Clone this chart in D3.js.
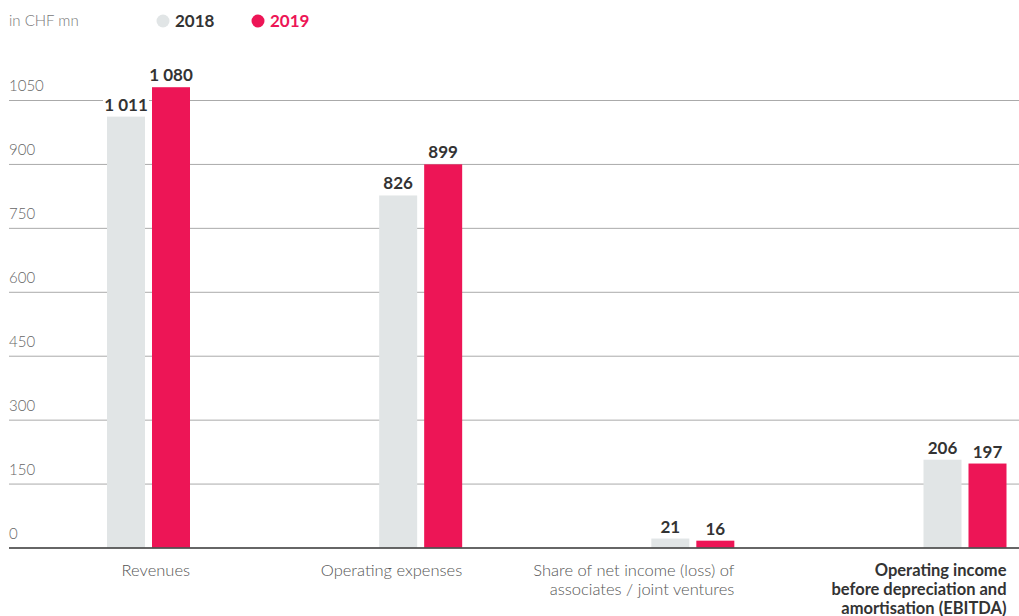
<!DOCTYPE html>
<html>
<head>
<meta charset="utf-8">
<script src="https://cdn.jsdelivr.net/npm/d3@7"></script>
<style>
  body { margin: 0; background: #fff; }
  svg { display: block; font-family: "Source Sans Pro", "Lato", "Noto Sans", sans-serif; }
</style>
</head>
<body>
<svg id="chart" width="1019" height="616"></svg>
<script>
// data
const categories = [
  ["Revenues"],
  ["Operating expenses"],
  ["Share of net income (loss) of", "associates / joint ventures"],
  ["Operating income", "before depreciation and", "amortisation (EBITDA)"]
];
const series = ["2018", "2019"];
const values2018 = [1011, 826, 21, 206];
const values2019 = [1080, 899, 16, 197];
const valueLabels2018 = ["1 011", "826", "21", "206"];
const valueLabels2019 = ["1 080", "899", "16", "197"];
const yTicks = [0, 150, 300, 450, 600, 750, 900, 1050];

const colors = { "2018": "#e1e5e6", "2019": "#ed1556" };

const svg = d3.select("#chart");

// scales
const x = d3.scalePoint()
  .domain(d3.range(categories.length))
  .range([148.5, 965]);
const y = d3.scaleLinear()
  .domain([0, 1050])
  .range([547.5, 100]);
const barW = 38, gap = 7;
const offset = d3.scaleOrdinal().domain(series).range([-(gap / 2 + barW), gap / 2]);

// gridlines + tick labels
const grid = svg.append("g");
grid.selectAll("line")
  .data(yTicks.filter(d => d !== 0))
  .enter()
  .append("line")
  .attr("x1", 9).attr("x2", 1019)
  .attr("y1", d => y(d) + 0.5).attr("y2", d => y(d) + 0.5)
  .attr("stroke", "#aaa")
  .attr("stroke-width", 1);
grid.selectAll("text")
  .data(yTicks)
  .enter()
  .append("text")
  .attr("x", 9)
  .attr("y", d => y(d) - 9)
  .attr("fill", "#666")
  .attr("font-size", 15)
  .attr("font-weight", 300)
  .text(d => d);

// bars
const rows = [];
categories.forEach((c, i) => {
  rows.push({ i: i, s: "2018", v: values2018[i], label: valueLabels2018[i] });
  rows.push({ i: i, s: "2019", v: values2019[i], label: valueLabels2019[i] });
});

svg.append("g").selectAll("rect")
  .data(rows)
  .enter()
  .append("rect")
  .attr("x", d => x(d.i) + offset(d.s))
  .attr("y", d => y(d.v))
  .attr("width", barW)
  .attr("height", d => y(0) - y(d.v))
  .attr("fill", d => colors[d.s]);

// value labels with white backing
const vl = svg.append("g").selectAll("g")
  .data(rows)
  .enter()
  .append("g")
  .attr("transform", d => "translate(" + (x(d.i) + offset(d.s) + barW / 2) + "," + (y(d.v) - 6) + ")");
vl.append("rect")
  .attr("x", -23).attr("y", -16)
  .attr("width", 46).attr("height", 18)
  .attr("fill", "#fff");
vl.append("text")
  .attr("text-anchor", "middle")
  .attr("fill", "#333")
  .attr("font-size", 17)
  .attr("font-weight", 700)
  .text(d => d.label);

// zero axis line
svg.append("line")
  .attr("x1", 9).attr("x2", 1019)
  .attr("y1", y(0) + 0.5).attr("y2", y(0) + 0.5)
  .attr("stroke", "#333")
  .attr("stroke-width", 1.5);

// category labels, right-aligned to group
const cat = svg.append("g").selectAll("text")
  .data(categories)
  .enter()
  .append("text")
  .attr("text-anchor", "end")
  .attr("x", (d, i) => x(i) + gap / 2 + barW)
  .attr("y", 576)
  .attr("fill", (d, i) => i === 3 ? "#333" : "#555")
  .attr("font-size", 16.5)
  .attr("font-weight", (d, i) => i === 3 ? 700 : 300);
cat.selectAll("tspan")
  .data(d => d)
  .enter()
  .append("tspan")
  .attr("x", function () { return d3.select(this.parentNode).attr("x"); })
  .attr("dy", (d, j) => j === 0 ? 0 : 19)
  .text(d => d);

// unit + legend
svg.append("text")
  .attr("x", 9).attr("y", 26)
  .attr("fill", "#777")
  .attr("font-size", 15)
  .attr("font-weight", 300)
  .text("in CHF mn");

const legend = svg.append("g").selectAll("g")
  .data(series)
  .enter()
  .append("g")
  .attr("transform", (d, i) => "translate(" + (163 + i * 95) + ",21)");
legend.append("circle")
  .attr("r", 6.5)
  .attr("fill", d => colors[d]);
legend.append("text")
  .attr("x", 12).attr("y", 6)
  .attr("font-size", 17)
  .attr("font-weight", 700)
  .attr("fill", d => d === "2019" ? colors[d] : "#333")
  .text(d => d);
</script>
</body>
</html>
